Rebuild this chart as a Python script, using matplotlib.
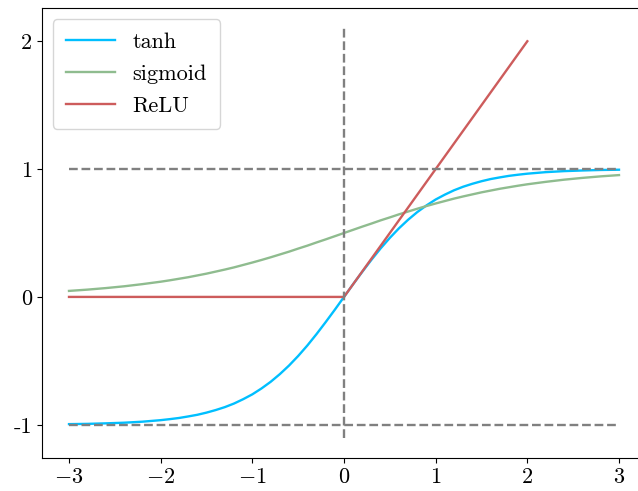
import matplotlib
matplotlib.use("Agg")
import matplotlib.pyplot as plt

plt.rcParams['font.family'] = 'serif'
plt.rcParams['font.serif'] = ['cmr10']
plt.rcParams['mathtext.fontset'] = 'cm'
plt.rcParams['axes.formatter.use_mathtext'] = True
plt.rcParams['font.size'] = 16

# valeurs
x_vals = [-3.0, -2.8, -2.6, -2.4, -2.2,
          -2.0, -1.9, -1.8, -1.7, -1.6, -1.5, -1.4, -1.3, -1.2, -1.1,
          -1.0, -0.9, -0.8, -0.7, -0.6, -0.5, -0.4, -0.3, -0.2, -0.1,
          0.0, 0.1, 0.2, 0.3, 0.4, 0.5, 0.6, 0.7, 0.8, 0.9,
          1.0, 1.1, 1.2, 1.3, 1.4, 1.5, 1.6, 1.7, 1.8, 1.9, 2.0,
          2.2, 2.4, 2.6, 2.8, 3.0]
tanh_vals = [-0.995, -0.993, -0.989, -0.984, -0.976,
             -0.964, -0.956, -0.947, -0.935, -0.922, -0.905, -0.885, -0.862, -0.834, -0.800,
             -0.762, -0.716, -0.664, -0.604, -0.537, -0.462, -0.380, -0.291, -0.197, -0.100,
             0.0, 0.100, 0.197, 0.291, 0.380, 0.462, 0.537, 0.604, 0.664, 0.716,
             0.762, 0.800, 0.834, 0.862, 0.885, 0.905, 0.922, 0.935, 0.947, 0.956, 0.964,
             0.976, 0.984, 0.989, 0.993, 0.995]
sigmoid_vals = [0.047, 0.057, 0.069, 0.083, 0.100,
                0.119, 0.130, 0.142, 0.154, 0.168, 0.182, 0.198, 0.214, 0.231, 0.250,
                0.269, 0.289, 0.310, 0.332, 0.354, 0.378, 0.401, 0.426, 0.450, 0.475,
                0.500, 0.525, 0.550, 0.574, 0.599, 0.622, 0.646, 0.668, 0.690, 0.711,
                0.731, 0.750, 0.769, 0.786, 0.802, 0.818, 0.832, 0.846, 0.858, 0.870, 0.881,
                0.900, 0.917, 0.931, 0.943, 0.953]
relu_x = [-3.0, 0.0, 2.0]
relu_y = [0.0, 0.0, 2.0]

fig = plt.figure(figsize=(6.38, 4.91), dpi=100)
# l'axe dépasse à droite (image rognée dans l'original)
ax = fig.add_axes([41.5 / 638, 33 / 491, 605 / 638, 450 / 491])

ax.plot(x_vals, tanh_vals, color='deepskyblue', lw=1.7, label='tanh')
ax.plot(x_vals, sigmoid_vals, color='darkseagreen', lw=1.7, label='sigmoid')
ax.plot(relu_x, relu_y, color='indianred', lw=1.7, label='ReLU')

ax.hlines([1, -1], -3, 3, colors='gray', linestyles='--', lw=1.7)
ax.vlines(0, -1.1, 2.1, colors='gray', linestyles='--', lw=1.7)

ax.set_xlim(-3.3, 3.3)
ax.set_ylim(-1.26, 2.26)
ax.set_xticks([-3, -2, -1, 0, 1, 2, 3])
ax.set_yticks([-1, 0, 1, 2])
ax.set_yticklabels(['-1', '0', '1', '2'])
ax.spines['right'].set_visible(False)

ax.legend(loc='upper left', handlelength=2.2, labelspacing=0.55, borderpad=0.6)

fig.savefig('out.png', dpi=100)
